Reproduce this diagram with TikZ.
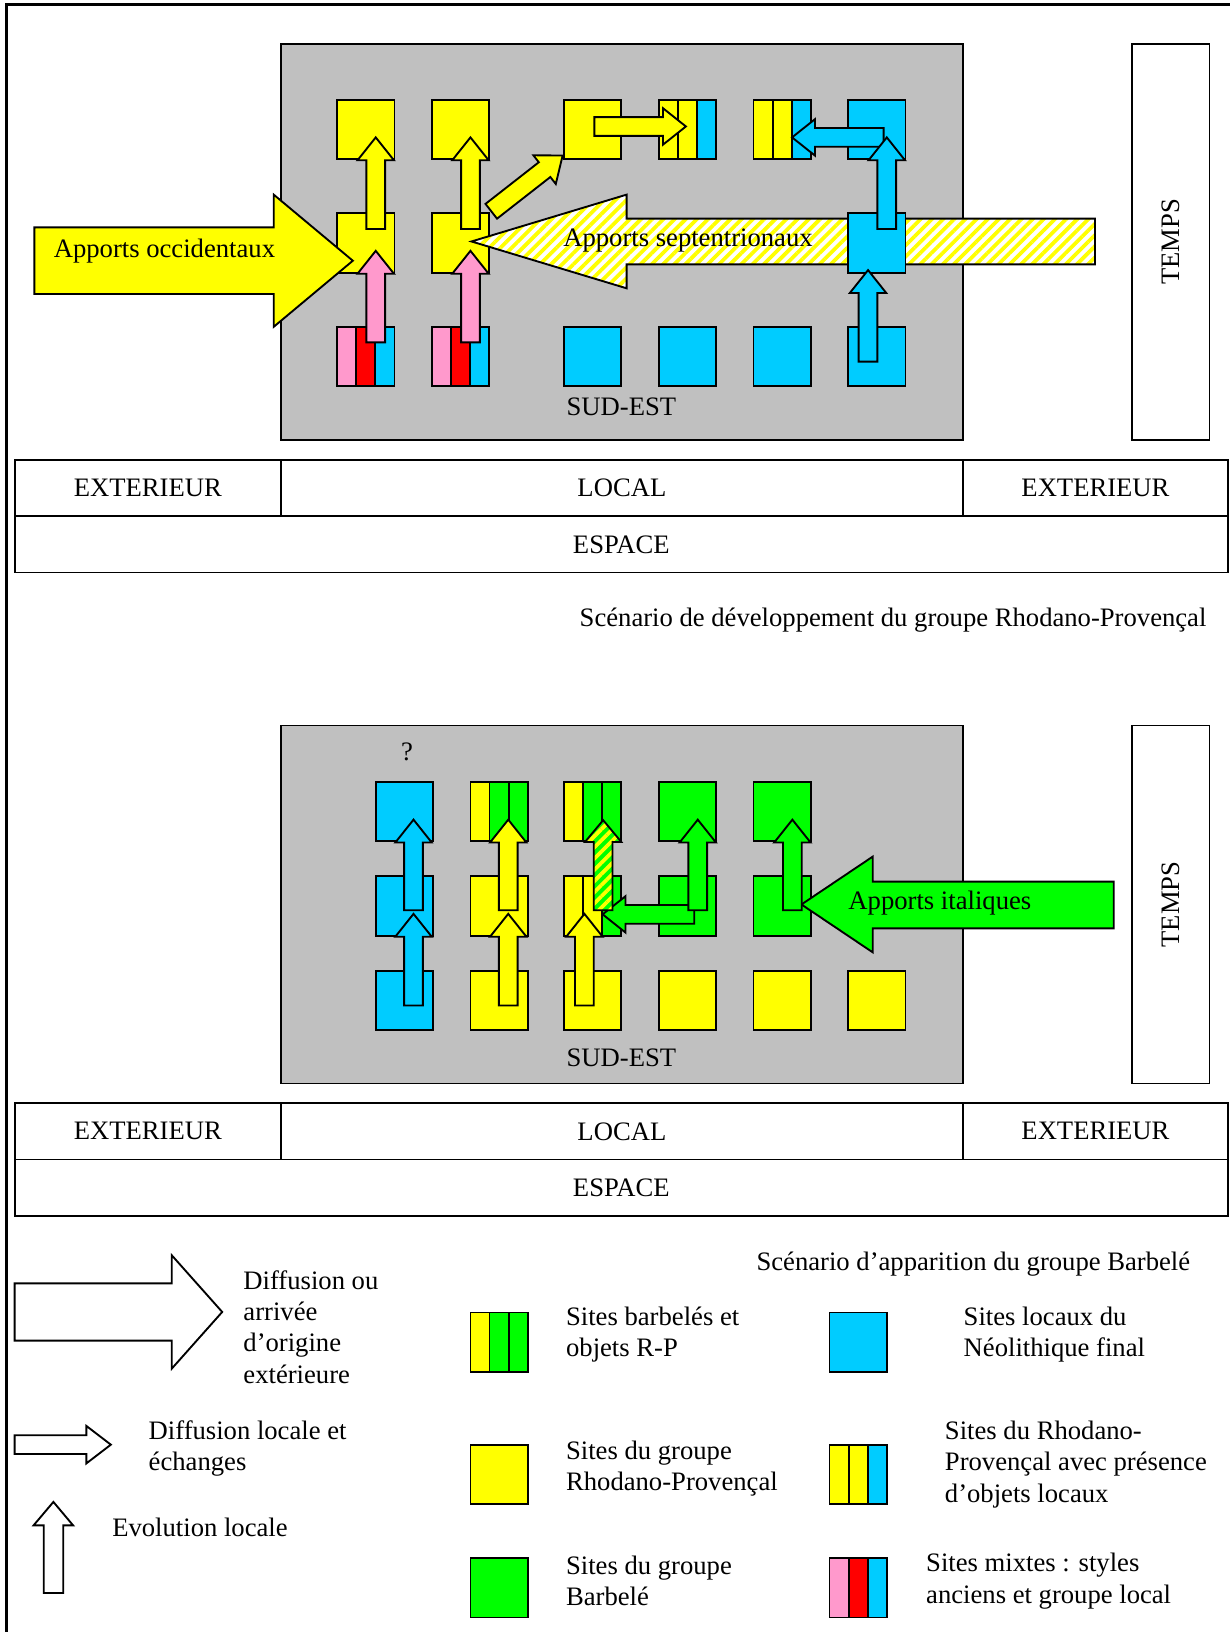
\documentclass[tikz,border=0pt]{standalone}
\usepackage{fontspec}
\setmainfont{Liberation Serif}
\usepackage{xcolor}
\usetikzlibrary{positioning,patterns.meta}

\definecolor{rpyellow}{HTML}{FFFF00}
\definecolor{localblue}{HTML}{00CCFF}
\definecolor{barbgreen}{HTML}{00FF00}
\definecolor{oldpink}{HTML}{FF99CC}
\definecolor{oldred}{HTML}{FF0000}
\definecolor{zonegray}{HTML}{C0C0C0}

% block arrow: style, tail, angle, length
\newcommand\blockarrow[4]{%
  \begin{scope}[shift={#2}, rotate=#3]
    \draw[#1] (0,-9) -- ({#4-22},-9) -- ({#4-22},-17.5) -- (#4,0) -- ({#4-22},17.5) -- ({#4-22},9) -- (0,9) -- cycle;
  \end{scope}}
% three-coloured site: name, corner, colours
\newcommand\stripesite[5]{%
  \begin{scope}[shift={#2}]
    \fill[#3] (0,0) rectangle (18.33,57);
    \fill[#4] (18.33,0) rectangle (36.67,57);
    \fill[#5] (36.67,0) rectangle (55,57);
    \draw (18.33,0) -- (18.33,57) (36.67,0) -- (36.67,57);
  \end{scope}
  \node[site] (#1) at #2 {};}

\begin{document}
\begin{tikzpicture}[x=0.5pt, y=-0.5pt, font=\fontsize{12.8}{15}\selectfont, line width=0.9pt,
  cell/.style={draw, inner sep=0pt, outer sep=0pt, minimum height=27pt},
  zone/.style={draw, fill=zonegray, inner sep=0pt, outer sep=0pt, anchor=north west, minimum width=327.5pt},
  timebox/.style={draw, inner sep=0pt, outer sep=0pt, anchor=north west, minimum width=37pt},
  site/.style={draw, inner sep=0pt, outer sep=0pt, anchor=north west, minimum width=27.5pt, minimum height=28.5pt},
  hollow/.style={draw, fill=white},
  hatch/.style={draw, preaction={fill=#1}, pattern={Lines[angle=45,distance=3.8pt,line width=1.8pt]}, pattern color=rpyellow},
  legend/.style={anchor=west, align=left, inner sep=0pt}]
\useasboundingbox (0,0) rectangle (1181,1568);
\draw[line width=1.3pt] (6,1575) -- (6,4) -- (1190,4);

%% scenario 1
\node[zone, minimum height=190.5pt] (se1) at (270,42) {};
\node[anchor=base] (se1-lbl) at (597,399) {SUD-EST};
\node[timebox, minimum height=190.5pt] (tps1) at (1088,42) {};
\node[rotate=90] (tps1-lbl) at (tps1.center) {TEMPS};
\node[cell, minimum width=128pt, anchor=north west] (extw1) at (14,442) {EXTERIEUR};
\node[cell, minimum width=327.5pt, right=0pt of extw1] (loc1) {LOCAL};
\node[cell, minimum width=127.5pt, right=0pt of loc1] (exte1) {EXTERIEUR};
\node[cell, minimum width=583pt, anchor=north west] (esp1) at (extw1.south west) {ESPACE};
\node[anchor=base east, inner sep=0pt] (cap1) at (1160,602) {Scénario de développement du groupe Rhodano-Provençal};

\node[site, fill=rpyellow] (a1) at (324,96) {};
\node[site, fill=rpyellow] (b1) at (415,96) {};
\node[site, fill=rpyellow] (c1) at (542,96) {};
\stripesite{d1}{(633,96)}{rpyellow}{rpyellow}{localblue}
\stripesite{e1}{(724,96)}{rpyellow}{rpyellow}{localblue}
\node[site, fill=localblue] (f1) at (815,96) {};
\node[site, fill=rpyellow] (a2) at (324,205) {};
\node[site, fill=rpyellow] (b2) at (415,205) {};
\stripesite{a3}{(324,314)}{oldpink}{oldred}{localblue}
\stripesite{b3}{(415,314)}{oldpink}{oldred}{localblue}
\node[site, fill=localblue] (c3) at (542,314) {};
\node[site, fill=localblue] (d3) at (633,314) {};
\node[site, fill=localblue] (e3) at (724,314) {};
\node[site, fill=localblue] (f3) at (815,314) {};

% Apports septentrionaux
\draw[hatch=white] (453,232) -- (602,187) -- (602,210) -- (1052,210) -- (1052,254) -- (602,254) -- (602,277) -- cycle;
\node (sept) at (661,231) {Apports septentrionaux};
\node[site, fill=localblue] (f2) at (815,205) {};
% Apports occidentaux
\draw[fill=rpyellow] (33,218.5) -- (263,218.5) -- (263,187) -- (339,250.5) -- (263,314) -- (263,282.5) -- (33,282.5) -- cycle;
\node (occ) at (158,241) {Apports occidentaux};

\blockarrow{fill=rpyellow}{(472,203)}{38}{87}
\blockarrow{fill=rpyellow}{(571,121.5)}{0}{88}
\blockarrow{fill=localblue}{(849,132)}{180}{88}
\blockarrow{fill=rpyellow}{(361,220)}{90}{88}
\blockarrow{fill=rpyellow}{(452,220)}{90}{88}
\blockarrow{fill=oldpink}{(361,329)}{90}{88}
\blockarrow{fill=oldpink}{(452,329)}{90}{88}
\blockarrow{fill=localblue}{(852,220)}{90}{88}
\blockarrow{fill=localblue}{(834,347.5)}{90}{88}

%% scenario 2
\node[zone, minimum height=172pt] (se2) at (270,697) {};
\node[anchor=base] (se2-lbl) at (597,1025) {SUD-EST};
\node (qmark) at (391,722) {?};
\node[timebox, minimum height=172pt] (tps2) at (1088,697) {};
\node[rotate=90] (tps2-lbl) at (tps2.center) {TEMPS};
\node[cell, minimum width=128pt, anchor=north west] (extw2) at (14,1060) {EXTERIEUR};
\node[cell, minimum width=327.5pt, right=0pt of extw2] (loc2) {LOCAL};
\node[cell, minimum width=127.5pt, right=0pt of loc2] (exte2) {EXTERIEUR};
\node[cell, minimum width=583pt, anchor=north west] (esp2) at (extw2.south west) {ESPACE};
\node[anchor=base west, inner sep=0pt] (cap2) at (726,1221) {Scénario d’apparition du groupe Barbelé};

\node[site, fill=localblue] (p1) at (361,751) {};
\stripesite{q1}{(452,751)}{rpyellow}{barbgreen}{barbgreen}
\stripesite{r1}{(542,751)}{rpyellow}{barbgreen}{barbgreen}
\node[site, fill=barbgreen] (s1) at (633,751) {};
\node[site, fill=barbgreen] (t1) at (724,751) {};
\node[site, fill=localblue] (p2) at (361,842) {};
\node[site, fill=rpyellow] (q2) at (452,842) {};
\stripesite{r2}{(542,842)}{rpyellow}{rpyellow}{barbgreen}
\node[site, fill=barbgreen] (s2) at (633,842) {};
\node[site, fill=barbgreen] (t2) at (724,842) {};
\node[site, fill=localblue] (p3) at (361,933) {};
\node[site, fill=rpyellow] (q3) at (452,933) {};
\node[site, fill=rpyellow] (r3) at (542,933) {};
\node[site, fill=rpyellow] (s3) at (633,933) {};
\node[site, fill=rpyellow] (t3) at (724,933) {};
\node[site, fill=rpyellow] (u3) at (815,933) {};

% Apports italiques
\draw[fill=barbgreen] (770,869) -- (838.5,823) -- (838.5,847) -- (1070,847) -- (1070,892) -- (838.5,892) -- (838.5,915) -- cycle;
\node (ital) at (903,868) {Apports italiques};

\blockarrow{fill=barbgreen}{(667,878.5)}{180}{88}
\blockarrow{fill=localblue}{(397.3,874.5)}{90}{87}
\blockarrow{fill=localblue}{(397.3,966)}{90}{88}
\blockarrow{fill=rpyellow}{(488.3,874.5)}{90}{87}
\blockarrow{fill=rpyellow}{(488.3,966)}{90}{88}
\blockarrow{fill=rpyellow}{(561.5,966)}{90}{88}
\draw[hatch=barbgreen] (570.5,874.5) -- (570.5,809) -- (562,809) -- (579.5,788) -- (597,809) -- (588.5,809) -- (588.5,874.5) -- cycle;
\blockarrow{fill=barbgreen}{(670.4,874.5)}{90}{87}
\blockarrow{fill=barbgreen}{(761.3,874.5)}{90}{87}

%% legend
\draw[hollow] (14,1233) -- (165,1233) -- (165,1206) -- (213.5,1260.5) -- (165,1315) -- (165,1288) -- (14,1288) -- cycle;
\node[legend] (lg-ext) at (233,1275) {Diffusion ou\\arrivée\\d’origine\\extérieure};
\draw[hollow] (14,1379) -- (83,1379) -- (83,1370) -- (106.5,1388) -- (83,1406) -- (83,1397) -- (14,1397) -- cycle;
\node[legend] (lg-loc) at (142,1392) {Diffusion locale et\\échanges};
\draw[hollow] (42,1530.5) -- (42,1465.5) -- (32.3,1465.5) -- (51.3,1443) -- (70.2,1465.5) -- (60.8,1465.5) -- (60.8,1530.5) -- cycle;
\node[legend] (lg-evo) at (107,1467) {Evolution locale};

\stripesite{k1}{(452,1261)}{rpyellow}{barbgreen}{barbgreen}
\node[legend] (k1-txt) at (543,1282) {Sites barbelés et\\objets R-P};
\node[site, fill=rpyellow] (k2) at (452,1388) {};
\node[legend] (k2-txt) at (543,1411) {Sites du groupe\\Rhodano-Provençal};
\node[site, fill=barbgreen] (k3) at (452,1497) {};
\node[legend] (k3-txt) at (543,1519) {Sites du groupe\\Barbelé};
\node[site, fill=localblue] (k4) at (797,1261) {};
\node[legend] (k4-txt) at (925,1282) {Sites locaux du\\Néolithique final};
\stripesite{k5}{(797,1388)}{rpyellow}{rpyellow}{localblue}
\node[legend] (k5-txt) at (907,1407) {Sites du Rhodano-\\Provençal avec présence\\d’objets locaux};
\stripesite{k6}{(797,1497)}{oldpink}{oldred}{localblue}
\node[legend] (k6-txt) at (889,1519) {Sites mixtes : styles\\anciens et groupe local};
\end{tikzpicture}
\end{document}
